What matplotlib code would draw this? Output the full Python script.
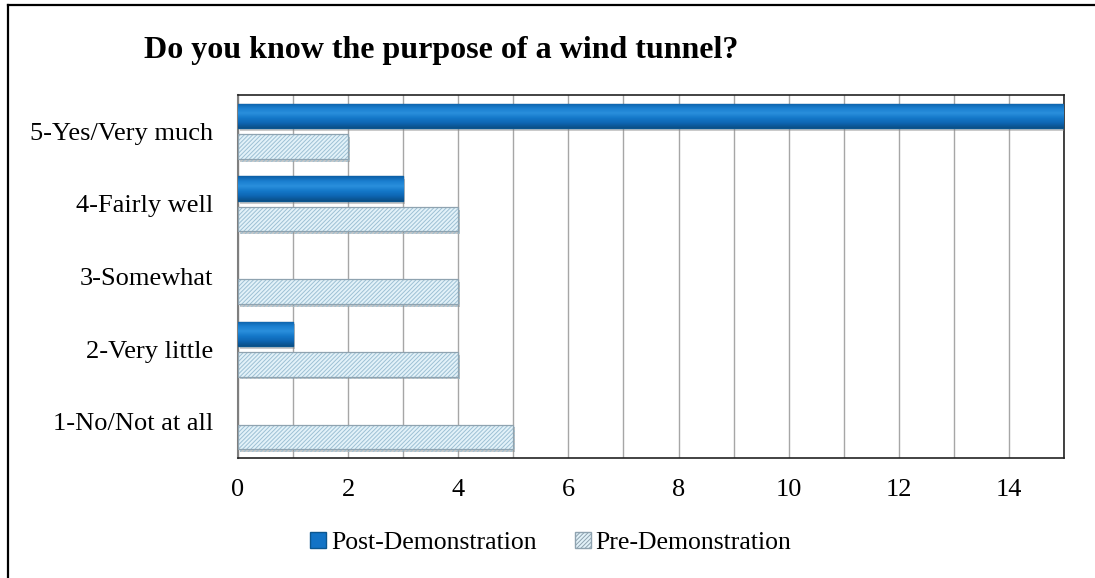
import matplotlib
matplotlib.use("Agg")
import matplotlib.pyplot as plt
import matplotlib.patheffects as pe
from matplotlib.patches import Patch
from matplotlib.lines import Line2D
from matplotlib.colors import LinearSegmentedColormap
import numpy as np

categories = ["1-No/Not at all", "2-Very little", "3-Somewhat", "4-Fairly well", "5-Yes/Very much"]
post_values = [0, 1, 0, 3, 15]
pre_values = [5, 4, 4, 4, 2]
series_names = ["Post-Demonstration", "Pre-Demonstration"]
x_ticks = [0, 2, 4, 6, 8, 10, 12, 14]

plt.rcParams['font.family'] = ['Liberation Serif', 'DejaVu Serif']
plt.rcParams['hatch.linewidth'] = 0.7

fig = plt.figure(figsize=(10.95, 5.78), dpi=100)
ax = fig.add_axes([238/1095, 1 - 458/578, (1064-238)/1095, (458-95)/578])

y = np.arange(len(categories))
h = 0.34
shadow = [pe.SimplePatchShadow(offset=(1.5, -2), shadow_rgbFace='#8a8a8a', alpha=0.45), pe.Normal()]

post_bars = ax.barh(y + 0.21, post_values, height=h, color='#1273C6', edgecolor='#0B568F',
                    linewidth=1.0, zorder=3)
pre_bars = ax.barh(y - 0.21, pre_values, height=h, color='#E3F2F9', edgecolor='#8FA3B0',
                   hatch='////////', linewidth=0.9, zorder=3)
for b in list(post_bars) + list(pre_bars):
    if b.get_width() <= 0:
        b.set_visible(False)
        continue
    b.set_path_effects(shadow)
for b in pre_bars:
    b._hatch_color = matplotlib.colors.to_rgba('#9DC0D4')

# vertical gradient on post bars (bevel look)
cmap = LinearSegmentedColormap.from_list('bev', ['#0A4F88', '#0E66B3', '#1478C9', '#2A8FDC', '#1A7FD0', '#0C5FA6'])
grad = np.linspace(0, 1, 64).reshape(-1, 1)
for b in post_bars:
    if b.get_width() <= 0:
        continue
    x0, y0 = b.get_x(), b.get_y()
    im = ax.imshow(grad, cmap=cmap, aspect='auto', origin='lower',
                   extent=(x0, x0 + b.get_width(), y0, y0 + b.get_height()), zorder=3.5)
    im.set_clip_path(b)

ax.set_xlim(0, 15)
ax.set_ylim(-0.5, len(categories) - 0.5)
ax.set_xticks(x_ticks)
ax.set_xticks(range(0, 16), minor=True)
ax.set_xticklabels([str(t) for t in x_ticks], fontsize=19)
ax.set_yticks(y)
ax.set_yticklabels(categories, fontsize=19)
ax.tick_params(axis='both', which='both', length=0)
ax.tick_params(axis='x', pad=15)
ax.tick_params(axis='y', pad=18)
ax.grid(axis='x', which='both', color='#A6A6A6', linewidth=1.0, zorder=0)
ax.set_axisbelow(True)
for s in ['top', 'right', 'bottom']:
    ax.spines[s].set_color('#222222')
    ax.spines[s].set_linewidth(1.2)
ax.spines['left'].set_color('#7F7F7F')
ax.spines['left'].set_linewidth(1.5)

fig.text(144/1095, 1 - 58/578, "Do you know the purpose of a wind tunnel?", fontsize=23,
         fontweight='bold', va='baseline', ha='left')

handles = [Patch(facecolor='#1273C6', edgecolor='#0B568F', label=series_names[0]),
           Patch(facecolor='#E3F2F9', edgecolor='#8FA3B0', hatch='////////', label=series_names[1])]
leg = fig.legend(handles=handles, loc='center', bbox_to_anchor=(551/1095, 1 - 543/578), ncol=2,
                 frameon=False, fontsize=18.5, handlelength=0.6, handleheight=0.6,
                 handletextpad=0.2, columnspacing=1.5)

# outer frame: left and top edges only
fig.add_artist(Line2D([7.5/1095, 7.5/1095], [0, 1 - 5/578], transform=fig.transFigure,
                      color='black', linewidth=1.6))
fig.add_artist(Line2D([7.5/1095, 1], [1 - 5/578, 1 - 5/578], transform=fig.transFigure,
                      color='black', linewidth=1.6))

fig.savefig("out.png", dpi=100)
